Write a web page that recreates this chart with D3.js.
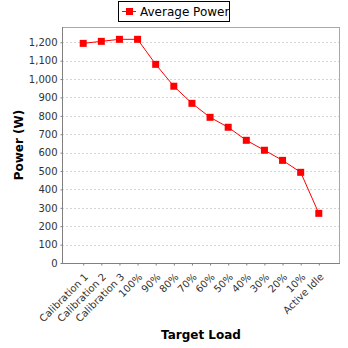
<!DOCTYPE html>
<html><head><meta charset="utf-8">
<script src="https://cdn.jsdelivr.net/npm/d3@7"></script>
<style>body{margin:0;background:#fff}svg{display:block}text{font-family:"DejaVu Sans",sans-serif}</style>
</head><body><svg id="c" width="348" height="348"></svg>
<script>
const categories = ["Calibration 1","Calibration 2","Calibration 3","100%","90%","80%","70%","60%","50%","40%","30%","20%","10%","Active Idle"];
const averagePower = [1194,1205,1216,1216,1080,961,868,792,738,667,613,558,493,270];
const yTicks = [0,100,200,300,400,500,600,700,800,900,1000,1100,1200];
const seriesName = "Average Power";

const svg = d3.select("#c");
const L = 62, R = 340, T = 27, B = 263;
const x = d3.scalePoint().domain(categories).range([L, R]).padding(1.17);
const y = d3.scaleLinear().domain([0, 1283]).range([B, T]);

svg.append("rect").attr("width",348).attr("height",348).attr("fill","#fff");

// gridlines
svg.append("g").selectAll("line").data(yTicks.filter(d=>d>0)).join("line")
  .attr("x1",L).attr("x2",R).attr("y1",d=>Math.round(y(d))+0.5).attr("y2",d=>Math.round(y(d))+0.5)
  .attr("stroke","#d4d4d4").attr("stroke-width",1).attr("stroke-dasharray","2,2");

// plot outline
svg.append("rect").attr("x",L+0.5).attr("y",T+0.5).attr("width",R-L-1).attr("height",B-T)
  .attr("fill","none").attr("stroke","#a8a8a8");

// y axis
const yAxis = d3.axisLeft(y).tickValues(yTicks).tickSize(2).tickPadding(3).tickFormat(d3.format(","));
const gy = svg.append("g").attr("transform",`translate(${L+0.5},0)`).call(yAxis);
gy.select(".domain").attr("stroke","#808080").attr("d",`M-0,${T}V${B+0.5}`);
gy.selectAll(".tick line").attr("stroke","#808080");
gy.selectAll(".tick text").attr("font-size",10).attr("fill","#333").attr("font-family","DejaVu Sans");

// x axis
const xAxis = d3.axisBottom(x).tickSize(2).tickPadding(2);
const gx = svg.append("g").attr("transform",`translate(0,${B+0.5})`).call(xAxis);
gx.select(".domain").attr("stroke","#808080").attr("d",`M${L},0H${R}`);
gx.selectAll(".tick line").attr("stroke","#808080");
gx.selectAll(".tick text").attr("font-size",10).attr("fill","#333").attr("font-family","DejaVu Sans")
  .attr("text-anchor","end").attr("dy",null).attr("y",null)
  .attr("transform","translate(5,14) rotate(-45)");

// line
const line = d3.line().x((d,i)=>x(categories[i])).y(d=>y(d));
svg.append("path").datum(averagePower).attr("d",line).attr("fill","none").attr("stroke","#ff0000").attr("stroke-width",1);
const s = 7;
svg.append("g").selectAll("rect").data(averagePower).join("rect")
  .attr("x",(d,i)=>x(categories[i])-s/2).attr("y",d=>y(d)-s/2).attr("width",s).attr("height",s).attr("fill","#ff0000");

// axis titles
svg.append("text").attr("x",(L+R)/2).attr("y",339).attr("text-anchor","middle")
  .attr("font-size",12).attr("font-weight","bold").attr("fill","#000").text("Target Load");
svg.append("text").attr("transform",`translate(23,${(T+B)/2}) rotate(-90)`).attr("text-anchor","middle")
  .attr("font-size",12).attr("font-weight","bold").attr("fill","#000").text("Power (W)");

// legend
const lg = svg.append("g");
lg.append("rect").attr("x",118.5).attr("y",1.5).attr("width",111).attr("height",20).attr("fill","#fff").attr("stroke","#000");
lg.append("line").attr("x1",122).attr("x2",136).attr("y1",11.5).attr("y2",11.5).attr("stroke","#ff0000");
lg.append("rect").attr("x",129.5-s/2).attr("y",11.5-s/2).attr("width",s).attr("height",s).attr("fill","#ff0000");
lg.append("text").attr("x",140).attr("y",16).attr("font-size",12).attr("fill","#000").text(seriesName);
</script></body></html>
